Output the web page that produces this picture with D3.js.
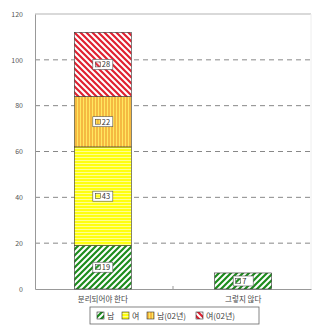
<!DOCTYPE html>
<html>
<head>
<meta charset="utf-8">
<script src="https://cdn.jsdelivr.net/npm/d3@7"></script>
<style>
	body { margin: 0; background: #fff; }
	text { font-family: "Noto Sans CJK KR", "Noto Sans", sans-serif; }
</style>
</head>
<body>
<svg width="313" height="325"></svg>
<script>

	var categories = ["분리되어야 한다", "그렇지 않다"];
	var seriesNames = ["남", "여", "남(02년)", "여(02년)"];
	var male = [19, 7];
	var female = [43, 0];
	var male02 = [22, 0];
	var female02 = [28, 0];
	var yTicks = [0, 20, 40, 60, 80, 100, 120];

	var values = [male, female, male02, female02];
	var rows = categories.map(function(c, i) {
		var r = { cat: c };
		seriesNames.forEach(function(s, j) { r[s] = values[j][i]; });
		return r;
	});

	var svg = d3.select("svg");
	var defs = svg.append("defs");

	// hatch patterns
	function pat(id, bg, draw) {
		var p = defs.append("pattern")
			.attr("id", id)
			.attr("patternUnits", "userSpaceOnUse")
			.attr("width", 6).attr("height", 6);
		p.append("rect").attr("width", 6).attr("height", 6).attr("fill", bg);
		draw(p);
	}
	pat("p0", "#fff", function(p) {
		p.append("path").attr("d", "M-1,7 L7,-1 M-4,4 L4,-4 M2,10 L10,2")
			.attr("stroke", "#1c8c1c").attr("stroke-width", 2.2);
	});
	pat("p1", "#ffff10", function(p) {
		p.append("path").attr("d", "M0,1.5 L6,1.5 M0,4.5 L6,4.5")
			.attr("stroke", "#ffffb0").attr("stroke-width", 0.8);
	});
	pat("p2", "#ffe860", function(p) {
		p.append("path").attr("d", "M1,0 L1,6 M4,0 L4,6")
			.attr("stroke", "#f0a030").attr("stroke-width", 1.3);
	});
	pat("p3", "#fff", function(p) {
		p.append("path").attr("d", "M-1,-1 L7,7 M-4,2 L2,8 M4,-2 L10,4")
			.attr("stroke", "#e02030").attr("stroke-width", 2.2);
	});

	var plotL = 35, plotR = 311, plotT = 14, plotB = 289;

	var x = d3.scaleBand().domain(categories).range([plotL, plotR]).paddingInner(0.594).paddingOuter(0.28);
	var y = d3.scaleLinear().domain([0, 120]).range([plotB, plotT]);

	var stack = d3.stack().keys(seriesNames)(rows);

	// grid
	svg.append("g").selectAll("line")
		.data(yTicks.filter(function(t) { return t > 0 && t < 120; }))
		.enter().append("line")
		.attr("x1", plotL).attr("x2", plotR)
		.attr("y1", function(d) { return y(d); }).attr("y2", function(d) { return y(d); })
		.attr("stroke", "#888").attr("stroke-dasharray", "5,4").attr("stroke-width", 1);

	// frame
	svg.append("line").attr("x1", plotL).attr("x2", plotR).attr("y1", y(120)).attr("y2", y(120))
		.attr("stroke", "#ccc").attr("stroke-width", 1.5);
	svg.append("line").attr("x1", plotR).attr("x2", plotR).attr("y1", y(120)).attr("y2", y(0))
		.attr("stroke", "#eee").attr("stroke-width", 1);

	var yAxis = svg.append("g")
		.attr("transform", "translate(" + plotL + ",0)")
		.call(d3.axisLeft(y).tickValues(yTicks).tickSize(0).tickPadding(12));
	yAxis.select(".domain").attr("stroke", "#999");
	yAxis.selectAll("text").attr("font-size", 7).attr("fill", "#555")
		.attr("font-family", "Liberation Sans, sans-serif");

	var xAxis = svg.append("g")
		.attr("transform", "translate(0," + plotB + ")")
		.call(d3.axisBottom(x).tickSize(0).tickPadding(8));
	xAxis.select(".domain").attr("stroke", "#999");
	xAxis.selectAll("text").attr("font-size", 7.5).attr("fill", "#444");
	svg.append("line").attr("x1", (plotL + plotR) / 2).attr("x2", (plotL + plotR) / 2)
		.attr("y1", plotB).attr("y2", plotB - 3).attr("stroke", "#999");

	// bars
	var layer = svg.append("g").selectAll("g").data(stack).enter().append("g")
		.attr("fill", function(d, i) { return "url(#p" + i + ")"; });

	layer.selectAll("rect")
		.data(function(d) { return d.filter(function(e) { return e[1] - e[0] > 0; }); })
		.enter().append("rect")
		.attr("x", function(d) { return x(d.data.cat); })
		.attr("width", x.bandwidth())
		.attr("y", function(d) { return y(d[1]); })
		.attr("height", function(d) { return y(d[0]) - y(d[1]); })
		.attr("stroke", "#333").attr("stroke-width", 0.6);

	// value labels
	stack.forEach(function(s, i) {
		s.forEach(function(d) {
			var v = d[1] - d[0];
			if (v <= 0) return;
			var cx = x(d.data.cat) + x.bandwidth() / 2;
			var cy = y((d[0] + d[1]) / 2);
			var g = svg.append("g").attr("transform", "translate(" + cx + "," + cy + ")");
			g.append("rect").attr("x", -10).attr("y", -5).attr("width", 20).attr("height", 10)
				.attr("fill", "#fff").attr("stroke", "#555").attr("stroke-width", 0.6);
			g.append("rect").attr("x", -7.5).attr("y", -2.5).attr("width", 5).attr("height", 5)
				.attr("fill", "url(#p" + i + ")").attr("stroke", "#333").attr("stroke-width", 0.5);
			g.append("text").attr("x", -1).attr("y", 3).attr("font-size", 7.5).attr("fill", "#333")
				.attr("font-family", "Liberation Sans, sans-serif")
				.text(v);
		});
	});

	// legend
	var leg = svg.append("g");
	leg.append("rect").attr("x", 90).attr("y", 307).attr("width", 169).attr("height", 17)
		.attr("fill", "#fff").attr("stroke", "#666").attr("stroke-width", 0.8);
	var legX = [97, 122, 147, 196];
	seriesNames.forEach(function(s, i) {
		leg.append("rect").attr("x", legX[i]).attr("y", 312).attr("width", 7).attr("height", 7)
			.attr("fill", "url(#p" + i + ")").attr("stroke", "#333").attr("stroke-width", 0.6);
		leg.append("text").attr("x", legX[i] + 10).attr("y", 318.5).attr("font-size", 8).attr("fill", "#444")
			.text(s);
	});

</script>
</body>
</html>
